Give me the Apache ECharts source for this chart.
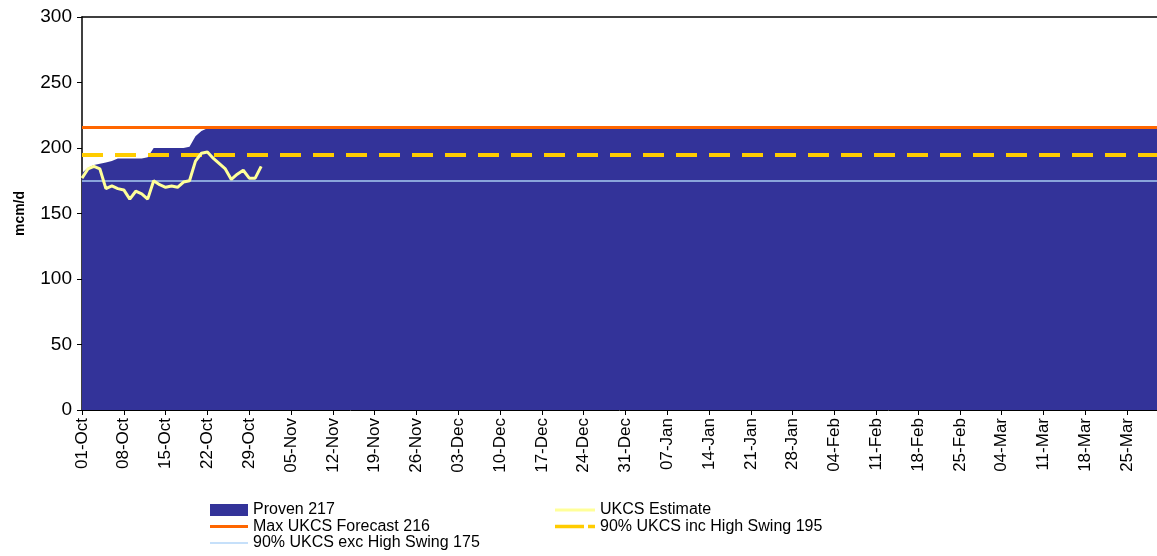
<!DOCTYPE html>
<html>
<head>
<meta charset="utf-8">
<script src="https://cdn.jsdelivr.net/npm/echarts@6/dist/echarts.min.js"></script>
<style>
html,body{margin:0;padding:0;background:#fff;}
#chart{width:1157px;height:556px;}
</style>
</head>
<body>
<div id="chart"></div>
<script>
// Calendar months shown on the category axis (01-Oct .. 30-Mar)
const monthNames = ['Oct','Nov','Dec','Jan','Feb','Mar'];
const monthDays  = [31, 30, 31, 31, 28, 30];

// Proven supply (mcm/d), one value per day
const provenValues = [
  181,185,187,188,189,190,192,192,192,192,192,193,200,200,200,200,200,200,201,209,213,215,
  215,215,215,215,215,215,215,215,215,215,215,215,215,215,215,215,215,215,215,215,
  215,215,215,215,215,215,215,215,215,215,215,215,215,215,215,215,215,215,215,215,
  215,215,215,215,215,215,215,215,215,215,215,215,215,215,215,215,215,215,215,215,
  215,215,215,215,215,215,215,215,215,215,215,215,215,215,215,215,215,215,215,215,
  215,215,215,215,215,215,215,215,215,215,215,215,215,215,215,215,215,215,215,215,
  215,215,215,215,215,215,215,215,215,215,215,215,215,215,215,215,215,215,215,215,
  215,215,215,215,215,215,215,215,215,215,215,215,215,215,215,215,215,215,215,215,
  215,215,215,215,215,215,215,215,215,215,215,215,215,215,215,215,215,215,215
];

// UKCS Estimate (mcm/d), 01-Oct .. 31-Oct
const estimateValues = [
  177,184,186,184,169,171,169,168,161,167,165,161,175,172,170,171,
  170,174,175,190,196,197,192,188,184,176,180,183,177,177,186
];

// Constant reference levels
const maxForecast = 216;
const incHighSwing = 195;
const excHighSwing = 175;

const yTicks = {min: 0, max: 300, interval: 50};

const categories = [];
monthNames.forEach((m, i) => {
  for (let d = 1; d <= monthDays[i]; d++) {
    categories.push((d < 10 ? '0' : '') + d + '-' + m);
  }
});

const FONT = '"Liberation Sans", Arial, sans-serif';
const chart = echarts.init(document.getElementById('chart'), null, {renderer: 'canvas'});

function refLine(name, value, color, width, type) {
  return {
    name: name,
    type: 'line',
    data: [],
    symbol: 'none',
    lineStyle: {color: color, width: width, type: type},
    itemStyle: {color: color},
    markLine: {
      silent: true,
      symbol: ['none', 'none'],
      label: {show: false},
      lineStyle: {color: color, width: width, type: type},
      data: [{yAxis: value}]
    }
  };
}

// legend swatches: tiny corner dots fix the 40x12 box so the bar keeps its thickness
const BOX = 'M0,0H0.01V0.01H0Z M39.99,11.99H40V12H39.99Z ';
const iconThick = 'path://' + BOX + 'M0,4.5H40V7.5H0Z';
const iconThin = 'path://' + BOX + 'M0,5H40V7H0Z';
const iconDash = 'path://' + BOX + 'M0,4.3H29V7.7H0Z M33,4.3H40V7.7H33Z';

const legendText = {color: '#000', fontSize: 16, fontFamily: FONT, lineHeight: 16};

const option = {
  animation: false,
  backgroundColor: '#ffffff',
  textStyle: {fontFamily: FONT},
  grid: {left: 82, right: 0, top: 17, bottom: 146, containLabel: false},
  xAxis: [{
    type: 'category',
    data: categories,
    boundaryGap: false,
    axisLine: {show: true, lineStyle: {color: '#000', width: 1}},
    axisTick: {show: true, interval: 6, length: 5, lineStyle: {color: '#000'}},
    axisLabel: {interval: 6, rotate: 90, color: '#000', fontSize: 17, fontFamily: FONT, margin: 8},
    splitLine: {show: false}
  }, {
    type: 'value',
    position: 'top',
    min: 0, max: 1,
    axisLine: {show: true, lineStyle: {color: '#000', width: 1.5}},
    axisTick: {show: false},
    axisLabel: {show: false},
    splitLine: {show: false}
  }],
  yAxis: {
    type: 'value',
    min: yTicks.min, max: yTicks.max, interval: yTicks.interval,
    name: 'mcm/d',
    nameLocation: 'middle',
    nameRotate: 90,
    nameGap: 55,
    nameTextStyle: {color: '#000', fontSize: 14, fontWeight: 'bold', fontFamily: FONT},
    axisLine: {show: true, lineStyle: {color: '#000', width: 1.5}},
    axisTick: {show: true, length: 5, lineStyle: {color: '#000'}},
    axisLabel: {color: '#000', fontSize: 19, fontFamily: FONT, margin: 10},
    splitLine: {show: false}
  },
  legend: [{
    left: 210, top: 502, orient: 'vertical', padding: 0, height: 60,
    itemWidth: 38, itemHeight: 12, itemGap: 0.5, itemTextGap: 3,
    textStyle: legendText,
    data: [
      {name: 'Proven 217', icon: 'rect'},
      {name: 'Max UKCS Forecast 216', icon: iconThick, itemStyle: {color: '#FF6600'}},
      {name: '90% UKCS exc High Swing 175', icon: iconThin, itemStyle: {color: '#C6E0FA'}}
    ]
  }, {
    left: 555, top: 502, orient: 'vertical', padding: 0, height: 60,
    itemWidth: 40, itemHeight: 12, itemGap: 0.5, itemTextGap: 3,
    textStyle: legendText,
    data: [
      {name: 'UKCS Estimate', icon: iconThick, itemStyle: {color: '#FFFF99'}},
      {name: '90% UKCS inc High Swing 195', icon: iconDash, itemStyle: {color: '#FFCC00'}}
    ]
  }],
  series: [
    {
      name: 'Proven 217',
      type: 'line',
      data: provenValues,
      symbol: 'none',
      lineStyle: {width: 0, color: '#333399'},
      itemStyle: {color: '#333399'},
      areaStyle: {color: '#333399', opacity: 1},
      z: 1
    },
    Object.assign(refLine('90% UKCS exc High Swing 175', excHighSwing, '#A8CCF2', 1.5, 'solid'), {z: 2}),
    Object.assign(refLine('90% UKCS inc High Swing 195', incHighSwing, '#FFCC00', 4, [21, 12]), {z: 3}),
    Object.assign(refLine('Max UKCS Forecast 216', maxForecast, '#FF6600', 3, 'solid'), {z: 4}),
    {
      name: 'UKCS Estimate',
      type: 'line',
      data: estimateValues,
      symbol: 'none',
      lineStyle: {width: 3, color: '#FFFF99'},
      itemStyle: {color: '#FFFF99'},
      z: 5
    }
  ]
};
chart.setOption(option);
</script>
</body>
</html>
